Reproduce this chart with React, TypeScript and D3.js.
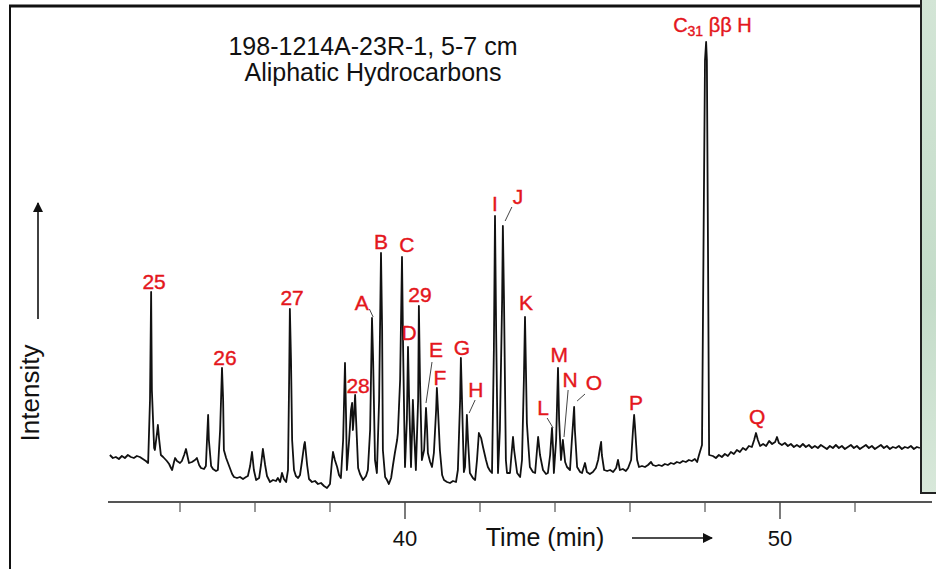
import React, { useEffect, useRef } from "react";
import * as d3 from "d3";

// chromatogram trace: [time (min), intensity (arb. units)]
const trace: [number, number][] = [
  [32.13, 45], [32.21, 42], [32.29, 43], [32.37, 41], [32.45, 44], [32.53, 42], [32.61, 45],
  [32.69, 43], [32.77, 42], [32.85, 44], [32.93, 43], [33.01, 41], [33.09, 39], [33.15, 37],
  [33.2, 100], [33.23, 208], [33.25, 110], [33.31, 52], [33.33, 50], [33.39, 68], [33.41, 75],
  [33.44, 62], [33.49, 45], [33.55, 43], [33.6, 41], [33.65, 39], [33.71, 36], [33.76, 32],
  [33.79, 30], [33.84, 38], [33.87, 42], [33.92, 39], [34.0, 37], [34.05, 39], [34.11, 45],
  [34.16, 51], [34.21, 42], [34.24, 37], [34.32, 38], [34.4, 40], [34.45, 42], [34.51, 35],
  [34.56, 32], [34.64, 31], [34.69, 34], [34.72, 60], [34.75, 85], [34.77, 60], [34.83, 34],
  [34.88, 31], [34.96, 29], [35.01, 30], [35.07, 70], [35.12, 132], [35.15, 100], [35.17, 50],
  [35.23, 42], [35.28, 37], [35.33, 32], [35.39, 26], [35.44, 23], [35.52, 22], [35.6, 23],
  [35.68, 21], [35.76, 23], [35.81, 24], [35.87, 34], [35.92, 48], [35.97, 30], [36.03, 20],
  [36.11, 22], [36.16, 35], [36.21, 51], [36.27, 35], [36.32, 24], [36.4, 18], [36.48, 20],
  [36.56, 19], [36.61, 22], [36.67, 18], [36.72, 27], [36.77, 21], [36.83, 18], [36.88, 30],
  [36.91, 120], [36.93, 191], [36.96, 140], [36.99, 60], [37.04, 30], [37.09, 24], [37.15, 22],
  [37.2, 25], [37.25, 38], [37.31, 55], [37.33, 58], [37.39, 35], [37.44, 21], [37.52, 18],
  [37.6, 19], [37.68, 16], [37.76, 17], [37.84, 14], [37.92, 12], [38.0, 16], [38.05, 38],
  [38.08, 48], [38.13, 40], [38.19, 33], [38.24, 25], [38.29, 22], [38.35, 60], [38.4, 137],
  [38.43, 80], [38.45, 30], [38.51, 60], [38.56, 90], [38.59, 97], [38.61, 70], [38.64, 85],
  [38.67, 105], [38.69, 85], [38.75, 32], [38.8, 26], [38.88, 20], [38.96, 24], [39.01, 30],
  [39.07, 70], [39.12, 182], [39.15, 140], [39.2, 40], [39.25, 27], [39.31, 100], [39.36, 247],
  [39.39, 170], [39.41, 50], [39.47, 23], [39.52, 20], [39.57, 16], [39.63, 22], [39.68, 35],
  [39.73, 47], [39.79, 60], [39.81, 67], [39.87, 120], [39.92, 243], [39.95, 150], [40.0, 33],
  [40.05, 80], [40.08, 153], [40.11, 100], [40.16, 33], [40.19, 70], [40.21, 100], [40.24, 70],
  [40.29, 30], [40.35, 100], [40.37, 194], [40.4, 120], [40.45, 40], [40.51, 50], [40.56, 92],
  [40.59, 70], [40.61, 47], [40.67, 38], [40.72, 33], [40.77, 47], [40.83, 90], [40.85, 112],
  [40.88, 90], [40.93, 50], [40.99, 25], [41.04, 20], [41.12, 18], [41.2, 17], [41.28, 19],
  [41.36, 18], [41.41, 30], [41.47, 100], [41.49, 142], [41.52, 100], [41.57, 28], [41.6, 33],
  [41.63, 60], [41.65, 85], [41.68, 60], [41.73, 27], [41.81, 22], [41.87, 20], [41.92, 40],
  [41.97, 67], [42.03, 62], [42.08, 53], [42.16, 40], [42.21, 33], [42.27, 29], [42.32, 27],
  [42.37, 150], [42.4, 284], [42.43, 170], [42.48, 27], [42.53, 70], [42.59, 200], [42.61, 274],
  [42.64, 200], [42.69, 40], [42.72, 27], [42.8, 27], [42.85, 50], [42.88, 63], [42.91, 50],
  [42.99, 27], [43.07, 23], [43.12, 40], [43.17, 120], [43.2, 183], [43.23, 120], [43.25, 77],
  [43.28, 60], [43.33, 33], [43.41, 28], [43.47, 27], [43.52, 50], [43.55, 63], [43.6, 45],
  [43.68, 30], [43.76, 26], [43.81, 27], [43.87, 45], [43.92, 72], [43.95, 50], [43.97, 27],
  [44.03, 60], [44.08, 132], [44.11, 80], [44.16, 40], [44.21, 60], [44.27, 38], [44.32, 33],
  [44.4, 30], [44.45, 60], [44.51, 93], [44.53, 70], [44.59, 33], [44.67, 28], [44.72, 27],
  [44.8, 37], [44.85, 28], [44.93, 26], [45.01, 28], [45.09, 32], [45.15, 40], [45.2, 52],
  [45.23, 58], [45.25, 45], [45.31, 30], [45.39, 29], [45.47, 30], [45.55, 28], [45.63, 32],
  [45.68, 40], [45.73, 30], [45.81, 31], [45.89, 29], [45.95, 32], [46.03, 40], [46.08, 70],
  [46.11, 85], [46.13, 75], [46.19, 40], [46.24, 33], [46.32, 34], [46.4, 33], [46.48, 35],
  [46.56, 38], [46.61, 35], [46.69, 34], [46.77, 35], [46.85, 34], [46.93, 36], [47.01, 35],
  [47.09, 37], [47.17, 36], [47.25, 38], [47.33, 37], [47.41, 39], [47.49, 38], [47.57, 40],
  [47.65, 39], [47.73, 41], [47.79, 38], [47.84, 45], [47.92, 55], [47.97, 300], [48.0, 440],
  [48.03, 458], [48.05, 440], [48.08, 250], [48.11, 45], [48.21, 44], [48.29, 42], [48.37, 45],
  [48.45, 43], [48.53, 46], [48.61, 44], [48.69, 48], [48.77, 46], [48.85, 50], [48.93, 48],
  [49.01, 52], [49.09, 50], [49.17, 54], [49.25, 53], [49.31, 60], [49.36, 67], [49.41, 60],
  [49.47, 54], [49.55, 56], [49.63, 54], [49.71, 59], [49.79, 56], [49.87, 58], [49.92, 63],
  [49.97, 57], [50.05, 55], [50.13, 57], [50.21, 54], [50.29, 56], [50.37, 53], [50.45, 55],
  [50.53, 53], [50.61, 56], [50.69, 53], [50.77, 55], [50.85, 52], [50.93, 54], [51.01, 52],
  [51.09, 55], [51.17, 53], [51.25, 51], [51.33, 54], [51.41, 52], [51.49, 55], [51.57, 52],
  [51.65, 54], [51.73, 51], [51.81, 53], [51.89, 55], [51.97, 52], [52.05, 54], [52.13, 51],
  [52.21, 53], [52.29, 55], [52.37, 52], [52.45, 54], [52.53, 51], [52.61, 53], [52.69, 55],
  [52.77, 52], [52.85, 54], [52.93, 51], [53.01, 53], [53.09, 52], [53.17, 54], [53.25, 51],
  [53.33, 53], [53.41, 52], [53.49, 54], [53.57, 51], [53.65, 53], [53.73, 52],
];

// peak labels: name, time, intensity of the label baseline
const peakLabels = [
  { name: "25", t: 33.31, v: 211 },
  { name: "26", t: 35.2, v: 135 },
  { name: "27", t: 36.99, v: 195 },
  { name: "28", t: 38.75, v: 107 },
  { name: "A", t: 38.85, v: 190 },
  { name: "B", t: 39.36, v: 251 },
  { name: "C", t: 40.05, v: 248 },
  { name: "29", t: 40.4, v: 198 },
  { name: "D", t: 40.11, v: 160 },
  { name: "E", t: 40.83, v: 143 },
  { name: "F", t: 40.93, v: 115 },
  { name: "G", t: 41.52, v: 145 },
  { name: "H", t: 41.89, v: 103 },
  { name: "I", t: 42.4, v: 289 },
  { name: "J", t: 43.01, v: 296 },
  { name: "K", t: 43.23, v: 190 },
  { name: "L", t: 43.68, v: 85 },
  { name: "M", t: 44.11, v: 138 },
  { name: "N", t: 44.4, v: 113 },
  { name: "O", t: 45.04, v: 110 },
  { name: "P", t: 46.16, v: 90 },
  { name: "Q", t: 49.39, v: 76 },
];

// leader lines from label to peak: [t1, v1, t2, v2]
const leaders: [number, number, number, number][] = [
  [39.05, 191, 39.15, 183],
  [40.72, 138, 40.56, 97],
  [41.87, 100, 41.71, 87],
  [42.85, 293, 42.67, 279],
  [43.79, 82, 43.95, 72],
  [44.35, 110, 44.24, 63],
  [44.8, 106, 44.59, 99],
];

const hopaneLabel = { t: 47.15, v: 468 };

const majorTicks = [40, 50];
const minorTicks = [34, 36, 38, 42, 44, 46, 48, 52];

const titleLines = ["198-1214A-23R-1, 5-7 cm", "Aliphatic Hydrocarbons"];

const FONT = "'Liberation Sans', Arial, Helvetica, sans-serif";
const RED = "#e4161c";

export default function App() {
  const svgRef = useRef<SVGSVGElement>(null);

  useEffect(() => {
    const width = 936;
    const height = 569;
    const axisY = 502;

    const svg = d3.select(svgRef.current);
    svg.selectAll("*").remove();
    svg.attr("width", width).attr("height", height);

    const x = d3.scaleLinear().domain([32, 54]).range([105, 930]);
    const y = d3.scaleLinear().domain([0, 460]).range([500, 40]);

    svg.append("rect").attr("width", width).attr("height", height).attr("fill", "#fff");

    const defs = svg.append("defs");
    const grad = defs
      .append("linearGradient")
      .attr("id", "panel")
      .attr("x1", 0)
      .attr("y1", 0)
      .attr("x2", 0)
      .attr("y2", 1);
    grad.append("stop").attr("offset", "0%").attr("stop-color", "#d3e5d6");
    grad.append("stop").attr("offset", "60%").attr("stop-color", "#c4dcc9");
    grad.append("stop").attr("offset", "100%").attr("stop-color", "#d8e8da");

    const arrow = defs
      .append("marker")
      .attr("id", "arrow")
      .attr("viewBox", "0 0 10 10")
      .attr("refX", 9)
      .attr("refY", 5)
      .attr("markerWidth", 10)
      .attr("markerHeight", 10)
      .attr("markerUnits", "userSpaceOnUse")
      .attr("orient", "auto");
    arrow.append("path").attr("d", "M0,0 L10,5 L0,10 Z").attr("fill", "#111");

    // frame
    svg.append("line").attr("x1", 10).attr("x2", 10).attr("y1", 5).attr("y2", height)
      .attr("stroke", "#111").attr("stroke-width", 2);
    svg.append("line").attr("x1", 9).attr("x2", 921).attr("y1", 6).attr("y2", 6)
      .attr("stroke", "#111").attr("stroke-width", 3);

    // title
    svg.append("g")
      .selectAll("text")
      .data(titleLines)
      .enter()
      .append("text")
      .attr("x", 373)
      .attr("y", (d, i) => 55 + i * 26)
      .attr("text-anchor", "middle")
      .attr("font-family", FONT)
      .attr("font-size", 25)
      .attr("fill", "#111")
      .text((d) => d);

    // x axis
    svg.append("line").attr("x1", 108).attr("x2", 932).attr("y1", axisY).attr("y2", axisY)
      .attr("stroke", "#555").attr("stroke-width", 2);
    svg.append("g")
      .selectAll("line")
      .data(minorTicks)
      .enter()
      .append("line")
      .attr("x1", (d) => x(d))
      .attr("x2", (d) => x(d))
      .attr("y1", axisY)
      .attr("y2", axisY + 10)
      .attr("stroke", "#555")
      .attr("stroke-width", 1.2);
    svg.append("g")
      .selectAll("line")
      .data(majorTicks)
      .enter()
      .append("line")
      .attr("x1", (d) => x(d))
      .attr("x2", (d) => x(d))
      .attr("y1", axisY)
      .attr("y2", axisY + 17)
      .attr("stroke", "#444")
      .attr("stroke-width", 1.4);
    svg.append("g")
      .selectAll("text")
      .data(majorTicks)
      .enter()
      .append("text")
      .attr("x", (d) => x(d))
      .attr("y", 546)
      .attr("text-anchor", "middle")
      .attr("font-family", FONT)
      .attr("font-size", 22)
      .attr("fill", "#111")
      .text((d) => d);
    svg.append("text")
      .attr("x", 545)
      .attr("y", 546)
      .attr("text-anchor", "middle")
      .attr("font-family", FONT)
      .attr("font-size", 25)
      .attr("fill", "#111")
      .text("Time (min)");
    svg.append("line").attr("x1", 632).attr("x2", 712).attr("y1", 538).attr("y2", 538)
      .attr("stroke", "#111").attr("stroke-width", 1.6).attr("marker-end", "url(#arrow)");

    // y axis label
    svg.append("text")
      .attr("transform", "translate(39,393) rotate(-90)")
      .attr("text-anchor", "middle")
      .attr("font-family", FONT)
      .attr("font-size", 26)
      .attr("fill", "#111")
      .text("Intensity");
    svg.append("line").attr("x1", 38).attr("x2", 38).attr("y1", 319).attr("y2", 203)
      .attr("stroke", "#111").attr("stroke-width", 1.6).attr("marker-end", "url(#arrow)");

    // trace
    const line = d3
      .line<[number, number]>()
      .x((d) => x(d[0]))
      .y((d) => y(d[1]));
    svg.append("path")
      .datum(trace)
      .attr("d", line)
      .attr("fill", "none")
      .attr("stroke", "#111")
      .attr("stroke-width", 1.8)
      .attr("stroke-linejoin", "round");

    // leader lines
    svg.append("g")
      .selectAll("line")
      .data(leaders)
      .enter()
      .append("line")
      .attr("x1", (d) => x(d[0]))
      .attr("y1", (d) => y(d[1]))
      .attr("x2", (d) => x(d[2]))
      .attr("y2", (d) => y(d[3]))
      .attr("stroke", "#444")
      .attr("stroke-width", 1);

    // peak labels
    svg.append("g")
      .selectAll("text")
      .data(peakLabels)
      .enter()
      .append("text")
      .attr("x", (d) => x(d.t))
      .attr("y", (d) => y(d.v))
      .attr("text-anchor", "middle")
      .attr("font-family", FONT)
      .attr("font-size", 21)
      .attr("fill", RED)
      .attr("stroke", RED)
      .attr("stroke-width", 0.4)
      .text((d) => d.name);

    const hop = svg.append("text")
      .attr("x", x(hopaneLabel.t))
      .attr("y", y(hopaneLabel.v))
      .attr("font-family", FONT)
      .attr("font-size", 20)
      .attr("fill", RED)
      .attr("stroke", RED)
      .attr("stroke-width", 0.4);
    hop.append("tspan").text("C");
    hop.append("tspan").attr("font-size", 14).attr("dy", 4).text("31");
    hop.append("tspan").attr("dy", -4).text(" ββ H");

    // side panel on the right edge
    svg.append("rect")
      .attr("x", 921)
      .attr("y", -2)
      .attr("width", 20)
      .attr("height", 495)
      .attr("fill", "url(#panel)")
      .attr("stroke", "#222")
      .attr("stroke-width", 2);
  }, []);

  return (
    <div style={{ position: "absolute", left: 0, top: 0 }}>
      <svg ref={svgRef} style={{ display: "block" }} />
    </div>
  );
}
